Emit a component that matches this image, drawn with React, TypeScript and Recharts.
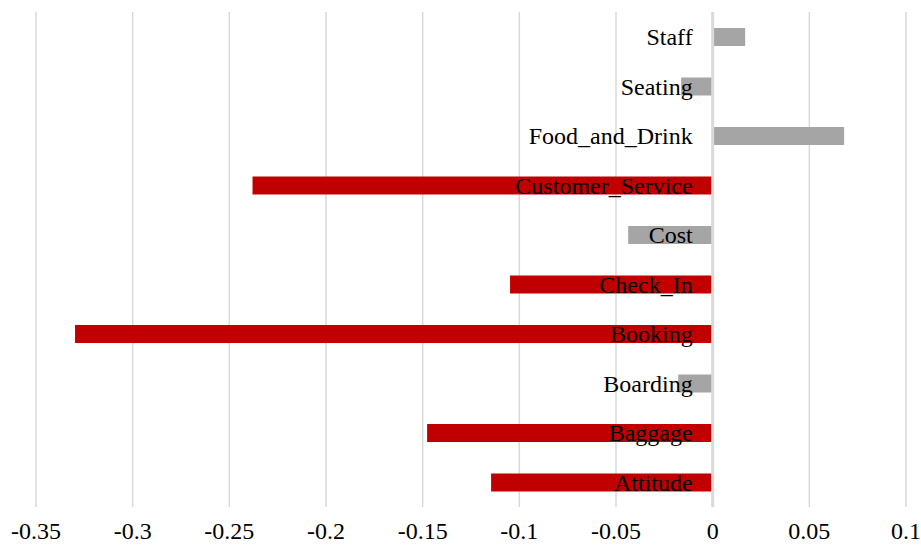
import React from 'react';
import {
  BarChart,
  Bar,
  Cell,
  XAxis,
  YAxis,
  CartesianGrid,
  ReferenceLine,
  LabelList
} from 'recharts';

// aspects, bottom to top
const aspects = [
  'Attitude',
  'Baggage',
  'Boarding',
  'Booking',
  'Check_In',
  'Cost',
  'Customer_Service',
  'Food_and_Drink',
  'Seating',
  'Staff'
];
const scores = [-0.1146, -0.1477, -0.0178, -0.3298, -0.1048, -0.0437, -0.238, 0.068, -0.0163, 0.0168];
const significant = [true, true, false, true, true, false, true, false, false, false];
const xTicks = [-0.35, -0.3, -0.25, -0.2, -0.15, -0.1, -0.05, 0, 0.05, 0.1];

const RED = '#C00000';
const GREY = '#A5A5A5';
const FONT = '"Liberation Serif", "Times New Roman", serif';

const data = aspects.map((name, i) => ({ name, score: scores[i] }));

// aspect name drawn just left of the zero line, over the bar
const AspectLabel = (props: any) => {
  const { x, y, width, height, index, value } = props;
  const left = Math.min(x, x + width);
  const right = Math.max(x, x + width);
  const zero = scores[index] >= 0 ? left : right;
  return (
    <text
      x={zero - 20}
      y={y + height / 2 + 8}
      textAnchor="end"
      fill="#000"
      fontSize={24}
      fontFamily={FONT}
    >
      {value}
    </text>
  );
};

export default function App() {
  return (
    <div style={{ position: 'fixed', left: 0, top: 0, background: '#fff' }}>
      <BarChart
        width={921}
        height={545}
        data={data}
        layout="vertical"
        margin={{ top: 12, right: 15, bottom: 0, left: 36 }}
      >
        <CartesianGrid horizontal={false} stroke="#D9D9D9" strokeWidth={1.5} />
        <XAxis
          type="number"
          domain={[-0.35, 0.1]}
          ticks={xTicks}
          axisLine={false}
          tickLine={false}
          tickSize={0}
          tickMargin={15}
          height={38}
          interval={0}
          tick={{ fill: '#000', fontSize: 24, fontFamily: FONT }}
        />
        <YAxis type="category" dataKey="name" reversed hide width={0} />
        <Bar dataKey="score" barSize={18} isAnimationActive={false}>
          {data.map((d, i) => (
            <Cell key={d.name} fill={significant[i] ? RED : GREY} />
          ))}
          <LabelList dataKey="name" content={AspectLabel} />
        </Bar>
        <ReferenceLine x={0} stroke="#D9D9D9" strokeWidth={3} />
      </BarChart>
    </div>
  );
}
